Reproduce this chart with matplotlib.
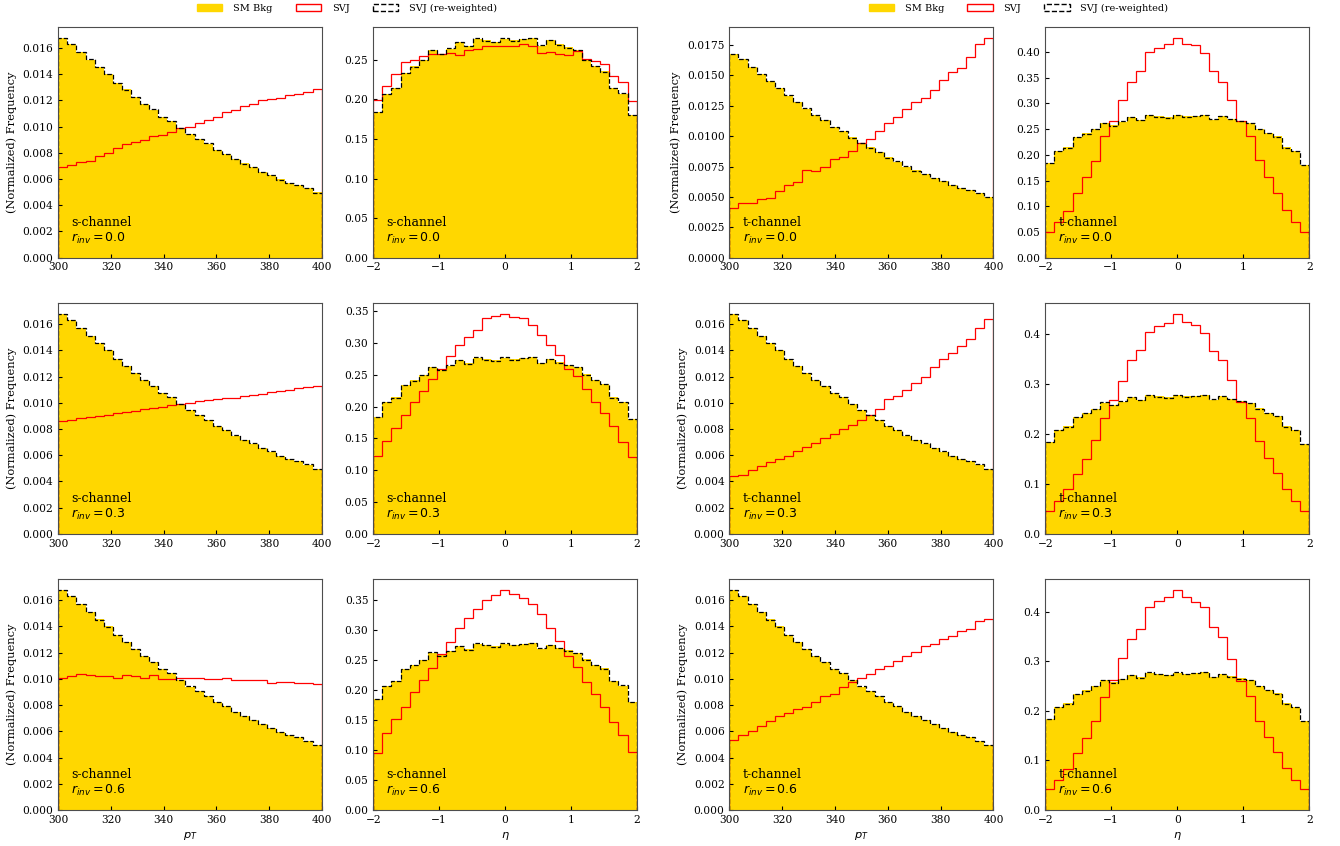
import numpy as np
import matplotlib
matplotlib.use("Agg")
import matplotlib.pyplot as plt
from matplotlib.patches import Patch
from matplotlib.ticker import MaxNLocator, MultipleLocator

plt.rcParams['font.family'] = 'DejaVu Serif'
plt.rcParams['font.size'] = 7.5

# Бины гистограмм
pt_edges = np.linspace(300, 400, 30)
eta_edges = np.linspace(-2, 2, 30)

# Фон SM (одинаковый во всех панелях)
pt_bkg = [0.01676, 0.01633, 0.01570, 0.01510, 0.01455, 0.01400, 0.01333, 0.01283, 0.01227, 0.01176,
          0.01130, 0.01074, 0.01044, 0.00990, 0.00942, 0.00907, 0.00870, 0.00825, 0.00790, 0.00750,
          0.00719, 0.00688, 0.00655, 0.00627, 0.00597, 0.00571, 0.00556, 0.00528, 0.00498]
eta_bkg = [0.184, 0.207, 0.215, 0.234, 0.242, 0.250, 0.262, 0.258, 0.264, 0.273,
           0.268, 0.277, 0.275, 0.273, 0.277, 0.275, 0.276, 0.278, 0.268, 0.275,
           0.270, 0.266, 0.262, 0.251, 0.242, 0.236, 0.215, 0.207, 0.180]

# SVJ после перевзвешивания
pt_rw = [0.01678, 0.01631, 0.01568, 0.01512, 0.01453, 0.01399, 0.01335, 0.01281, 0.01229, 0.01174,
         0.01131, 0.01072, 0.01046, 0.00988, 0.00944, 0.00905, 0.00871, 0.00823, 0.00792, 0.00751,
         0.00717, 0.00690, 0.00653, 0.00629, 0.00595, 0.00573, 0.00554, 0.00530, 0.00496]
eta_rw = [0.184, 0.207, 0.214, 0.234, 0.241, 0.250, 0.263, 0.257, 0.265, 0.273,
          0.267, 0.278, 0.274, 0.272, 0.278, 0.274, 0.276, 0.278, 0.269, 0.275,
          0.269, 0.265, 0.262, 0.250, 0.242, 0.235, 0.214, 0.208, 0.180]

# SVJ, s-channel
pt_s_00 = [0.00688, 0.00706, 0.00728, 0.00741, 0.00775, 0.00800, 0.00833, 0.00866, 0.00884, 0.00900,
           0.00927, 0.00935, 0.00960, 0.00990, 0.01000, 0.01024, 0.01054, 0.01074, 0.01110, 0.01130,
           0.01156, 0.01176, 0.01200, 0.01211, 0.01220, 0.01240, 0.01252, 0.01265, 0.01283]
pt_s_03 = [0.0086, 0.0087, 0.0088, 0.0089, 0.0090, 0.0091, 0.0092, 0.0093, 0.0094, 0.0095,
           0.0096, 0.0097, 0.0098, 0.0099, 0.0100, 0.0101, 0.0102, 0.0103, 0.0104, 0.0104,
           0.0105, 0.0106, 0.0107, 0.0108, 0.0109, 0.0110, 0.0111, 0.0112, 0.0113]
pt_s_06 = [0.0101, 0.0102, 0.0104, 0.0103, 0.0102, 0.0102, 0.0101, 0.0103, 0.0102, 0.0101,
           0.0103, 0.0100, 0.0100, 0.0101, 0.0101, 0.0101, 0.0100, 0.0100, 0.0101, 0.0099,
           0.0099, 0.0099, 0.0099, 0.0097, 0.0098, 0.0098, 0.0097, 0.0097, 0.0096]
eta_s_00 = [0.199, 0.217, 0.232, 0.247, 0.250, 0.255, 0.257, 0.257, 0.259, 0.256,
            0.262, 0.264, 0.267, 0.268, 0.268, 0.268, 0.270, 0.268, 0.259, 0.260,
            0.258, 0.256, 0.261, 0.251, 0.249, 0.245, 0.230, 0.222, 0.198]
eta_s_03 = [0.122, 0.146, 0.166, 0.187, 0.207, 0.224, 0.244, 0.260, 0.280, 0.297,
            0.309, 0.321, 0.339, 0.342, 0.346, 0.341, 0.339, 0.328, 0.312, 0.297,
            0.282, 0.259, 0.248, 0.228, 0.207, 0.190, 0.169, 0.145, 0.121]
eta_s_06 = [0.095, 0.128, 0.152, 0.171, 0.196, 0.216, 0.237, 0.260, 0.280, 0.303,
            0.320, 0.335, 0.350, 0.357, 0.366, 0.360, 0.353, 0.342, 0.326, 0.303,
            0.282, 0.256, 0.238, 0.213, 0.193, 0.171, 0.147, 0.124, 0.097]

# SVJ, t-channel
pt_t_00 = [0.0041, 0.0045, 0.0045, 0.0048, 0.0049, 0.0055, 0.0060, 0.0062, 0.0072, 0.0071,
           0.0075, 0.0081, 0.0083, 0.0088, 0.0094, 0.0098, 0.0104, 0.0111, 0.0116, 0.0122,
           0.0128, 0.0131, 0.0138, 0.0146, 0.0153, 0.0156, 0.0165, 0.0176, 0.0181]
pt_t_03 = [0.0044, 0.0045, 0.0049, 0.0052, 0.0055, 0.0057, 0.0059, 0.0063, 0.0066, 0.0069,
           0.0073, 0.0076, 0.0080, 0.0083, 0.0087, 0.0091, 0.0095, 0.0103, 0.0105, 0.0110,
           0.0115, 0.0120, 0.0127, 0.0133, 0.0138, 0.0143, 0.0149, 0.0157, 0.0164]
pt_t_06 = [0.00533, 0.00574, 0.00605, 0.00643, 0.00676, 0.00720, 0.00740, 0.00770, 0.00788, 0.00827,
           0.00872, 0.00885, 0.00936, 0.00980, 0.01005, 0.01038, 0.01077, 0.01097, 0.01133, 0.01173,
           0.01204, 0.01250, 0.01268, 0.01306, 0.01324, 0.01365, 0.01378, 0.01439, 0.01454]
eta_t_00 = [0.049, 0.070, 0.091, 0.125, 0.157, 0.189, 0.236, 0.266, 0.306, 0.341,
            0.364, 0.400, 0.408, 0.416, 0.428, 0.415, 0.413, 0.399, 0.363, 0.342,
            0.306, 0.266, 0.236, 0.190, 0.157, 0.125, 0.092, 0.070, 0.049]
eta_t_03 = [0.045, 0.065, 0.089, 0.120, 0.150, 0.187, 0.232, 0.267, 0.305, 0.347,
            0.367, 0.403, 0.415, 0.422, 0.440, 0.423, 0.417, 0.402, 0.365, 0.347,
            0.307, 0.263, 0.232, 0.185, 0.152, 0.122, 0.089, 0.065, 0.045]
eta_t_06 = [0.042, 0.061, 0.082, 0.116, 0.145, 0.180, 0.229, 0.262, 0.307, 0.346,
            0.366, 0.409, 0.422, 0.430, 0.444, 0.429, 0.420, 0.410, 0.370, 0.349,
            0.305, 0.260, 0.231, 0.180, 0.147, 0.118, 0.084, 0.061, 0.042]

r_inv = ['0.0', '0.3', '0.6']
channels = ['s-channel', 't-channel']
svj_pt = [[pt_s_00, pt_s_03, pt_s_06], [pt_t_00, pt_t_03, pt_t_06]]
svj_eta = [[eta_s_00, eta_s_03, eta_s_06], [eta_t_00, eta_t_03, eta_t_06]]


def draw(ax, edges, bkg, svj, rw, label):
    centers = 0.5 * (edges[1:] + edges[:-1])
    ax.hist(centers, bins=edges, weights=bkg, histtype='stepfilled', color='gold')
    ax.hist(centers, bins=edges, weights=svj, histtype='step', color='red', lw=0.9)
    ax.hist(centers, bins=edges, weights=rw, histtype='step', color='black', ls='--', lw=0.9)
    ax.margins(x=0)
    ax.text(0.05, 0.05, label, transform=ax.transAxes, fontsize=9, ha='left', va='bottom')
    ax.yaxis.set_major_locator(MaxNLocator(nbins=9, steps=[1, 2, 2.5, 5, 10]))
    ax.tick_params(direction='in', length=3, width=0.8, labelsize=7.7)
    for sp in ax.spines.values():
        sp.set_color('0.3')


fig = plt.figure(figsize=(13.4, 8.46), dpi=100)
grids = [
    fig.add_gridspec(3, 2, left=0.0435, right=0.4751, top=0.9684, bottom=0.0426, wspace=0.196, hspace=0.196),
    fig.add_gridspec(3, 2, left=0.5443, right=0.9771, top=0.9684, bottom=0.0426, wspace=0.196, hspace=0.196),
]

for c, gs in enumerate(grids):
    for r in range(3):
        label = channels[c] + '\n$r_{inv} = ' + r_inv[r] + '$'

        ax_pt = fig.add_subplot(gs[r, 0])
        draw(ax_pt, pt_edges, pt_bkg, svj_pt[c][r], pt_rw, label)
        ax_pt.xaxis.set_major_locator(MultipleLocator(20))
        ax_pt.set_ylabel('(Normalized) Frequency', fontsize=8.2)

        ax_eta = fig.add_subplot(gs[r, 1])
        draw(ax_eta, eta_edges, eta_bkg, svj_eta[c][r], eta_rw, label)
        ax_eta.xaxis.set_major_locator(MultipleLocator(1))

        if r == 2:
            ax_pt.set_xlabel('$p_T$', fontsize=8.2)
            ax_eta.set_xlabel('$\\eta$', fontsize=8.2)

# Легенды над каждой группой
handles = [Patch(facecolor='gold', edgecolor='gold'),
           Patch(facecolor='none', edgecolor='red'),
           Patch(facecolor='none', edgecolor='black', linestyle='--')]
labels = ['SM Bkg', 'SVJ', 'SVJ (re-weighted)']
for xc in [0.259, 0.760]:
    fig.legend(handles, labels, loc='upper center', bbox_to_anchor=(xc, 1.006), ncol=3,
               frameon=False, fontsize=7.0, handlelength=2.6, handletextpad=1.1, columnspacing=2.4)

fig.savefig('out.png', dpi=100)
